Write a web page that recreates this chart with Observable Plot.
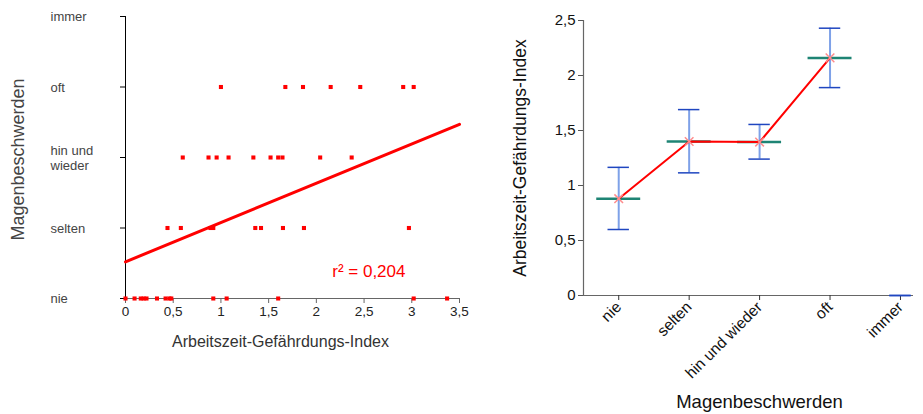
<!DOCTYPE html>
<html><head><meta charset="utf-8">
<script src="https://cdn.jsdelivr.net/npm/d3@7"></script>
<script src="https://cdn.jsdelivr.net/npm/@observablehq/plot@0.6"></script>
<style>
body{margin:0;background:#fff;font-family:"Liberation Sans",Arial,sans-serif;}
#wrap{display:flex;width:923px;height:414px;}
svg{overflow:visible;}
</style></head><body><div id="wrap"></div>
<script>
// ---- data: left scatter ----
const levels = ["nie","selten","hin und wieder","oft","immer"];
const levelLabels = ["nie","selten","hin und\nwieder","oft","immer"];
const xNie = [0, 0.095, 0.16, 0.19, 0.22, 0.33, 0.42, 0.46, 0.48, 0.92, 1.06, 1.60, 3.02, 3.37];
const xSelten = [0.44, 0.58, 0.89, 0.92, 1.36, 1.42, 1.65, 1.87, 2.97];
const xHin = [0.60, 0.87, 0.955, 1.08, 1.34, 1.52, 1.60, 1.645, 2.04, 2.37];
const xOft = [1.00, 1.675, 1.86, 2.15, 2.46, 2.91, 3.02];
const regX = [0, 3.5];
const regY = [0.52, 2.47];
const r2Label = "r² = 0,204";
const xTicksLeft = [0, 0.5, 1, 1.5, 2, 2.5, 3, 3.5];
const yTicksLeft = [0, 1, 2, 3, 4];
// ---- data: right means with error bars ----
const means = [0.88, 1.40, 1.395, 2.16, 0];
const lower = [0.60, 1.115, 1.24, 1.89, 0];
const upper = [1.165, 1.69, 1.555, 2.43, 0];
const yTicksRight = [0, 0.5, 1, 1.5, 2, 2.5];

const font = '"Liberation Sans", Arial, sans-serif';
const comma = v => String(v).replace(".", ",");

const pts = [];
[xNie, xSelten, xHin, xOft].forEach((arr, k) => arr.forEach(v => pts.push({x: v, y: k})));
const reg = regX.map((x, i) => ({x, y: regY[i]}));

const left = Plot.plot({
  width: 470, height: 414,
  marginLeft: 125, marginRight: 11, marginTop: 16, marginBottom: 116,
  style: {fontFamily: font, background: "white", overflow: "visible"},
  x: {domain: [0, 3.5]},
  y: {domain: [0, 4]},
  marks: [
    Plot.ruleY([0], {stroke: "#666", insetLeft: -5}),
    Plot.ruleX([0], {stroke: "#000", insetBottom: -2}),
    Plot.axisY({ticks: yTicksLeft, tickFormat: () => "", tickSize: 5, stroke: "#000", label: null}),
    Plot.text(yTicksLeft, {y: d => d, text: d => levelLabels[d], frameAnchor: "left", textAnchor: "start",
      lineAnchor: "middle", dx: -75, fill: "#444", fontSize: 13, lineHeight: 1.15}),
    Plot.axisX({ticks: xTicksLeft, tickFormat: comma, tickSize: 5, tickPadding: 3,
      stroke: "#666", fill: "#222", fontSize: 13.5, label: null}),
    Plot.line(reg, {x: "x", y: "y", stroke: "red", strokeWidth: 3}),
    Plot.dot(pts, {x: "x", y: "y", symbol: "square", fill: "red", r: 2.3}),
    Plot.text([r2Label], {frameAnchor: "bottom-right", textAnchor: "end", lineAnchor: "bottom",
      dx: -54, dy: -22, fill: "red", fontSize: 17}),
    Plot.text(["Arbeitszeit-Gefährdungs-Index"], {frameAnchor: "bottom", textAnchor: "middle", lineAnchor: "middle",
      dx: -12, dy: 43, fontSize: 16, fill: "#333"}),
    Plot.text(["Magenbeschwerden"], {frameAnchor: "left", textAnchor: "middle", lineAnchor: "middle",
      rotate: -90, dx: -107, dy: 2, fontSize: 18, fill: "#444"})
  ]
});

const rows = levels.map((c, i) => ({i, c, mean: means[i], lo: lower[i], hi: upper[i]}));
const rowsM = rows.filter(d => d.c !== "immer");
const xDom = [-0.5, 4.185];
const meanHalf = 0.312, capHalf = 0.152;

const right = Plot.plot({
  width: 453, height: 414,
  marginLeft: 113, marginRight: 10, marginTop: 20, marginBottom: 119,
  style: {fontFamily: font, background: "white", overflow: "visible"},
  x: {domain: xDom},
  y: {domain: [0, 2.5]},
  marks: [
    Plot.ruleY([0], {stroke: "#666", strokeWidth: 1.2}),
    Plot.ruleX([xDom[0]], {stroke: "#666", strokeWidth: 1.2}),
    Plot.axisY({ticks: yTicksRight, tickFormat: comma, tickSize: 5, tickPadding: 3,
      fontSize: 15, stroke: "#555", fill: "#111", label: null}),
    Plot.axisX({ticks: [0, 1, 2, 3, 4], tickFormat: i => levels[i], tickRotate: -45, tickSize: 5, tickPadding: 4,
      fontSize: 15.5, stroke: "#333", fill: "#111", label: null}),
    Plot.ruleY(rowsM, {x1: d => d.i - meanHalf, x2: d => d.i + meanHalf, y: "mean", stroke: "#1e8474", strokeWidth: 2.5}),
    Plot.ruleX(rowsM, {x: "i", y1: "lo", y2: "hi", stroke: "#7ea1e8", strokeWidth: 2}),
    Plot.ruleY(rows, {x1: d => d.i - capHalf, x2: d => d.i + capHalf, y: "hi", stroke: "#1f46c0", strokeWidth: 1.5}),
    Plot.ruleY(rows, {x1: d => d.i - capHalf, x2: d => d.i + capHalf, y: "lo", stroke: "#1f46c0", strokeWidth: 1.5}),
    Plot.line(rowsM, {x: "i", y: "mean", stroke: "red", strokeWidth: 2}),
    Plot.dot(rowsM, {x: "i", y: "mean", symbol: "times", stroke: "#ff8c8c", r: 4}),
    Plot.text(["Arbeitszeit-Gefährdungs-Index"], {frameAnchor: "left", textAnchor: "middle", lineAnchor: "middle",
      rotate: -90, dx: -63, dy: 0, fontSize: 17.5, fill: "#111"}),
    Plot.text(["Magenbeschwerden"], {frameAnchor: "bottom", textAnchor: "middle", lineAnchor: "middle",
      dx: 11, dy: 107, fontSize: 18.5, fill: "#111"})
  ]
});

document.getElementById("wrap").append(left, right);
</script></body></html>
